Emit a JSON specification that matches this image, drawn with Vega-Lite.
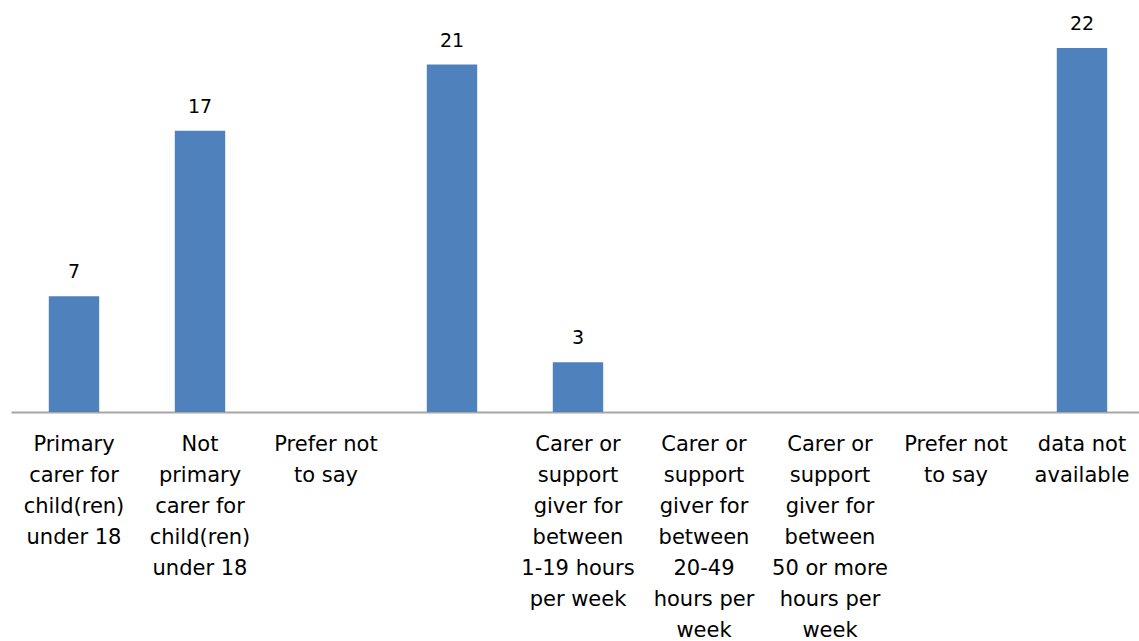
{
  "$schema": "https://vega.github.io/schema/vega-lite/v6.json",
  "width": 1134,
  "height": 364,
  "padding": {"left": 11, "top": 48, "right": 0, "bottom": 229},
  "autosize": "none",
  "background": "white",
  "config": {"view": {"stroke": null}},
  "data": {
    "values": [
      {"cat": "Primary|carer for|child(ren)|under 18", "value": 7},
      {"cat": "Not|primary|carer for|child(ren)|under 18", "value": 17},
      {"cat": "Prefer not|to say", "value": null},
      {"cat": " ", "value": 21},
      {"cat": "Carer or|support|giver for|between|1-19 hours|per week", "value": 3},
      {"cat": "Carer or|support|giver for|between|20-49|hours per|week", "value": null},
      {"cat": "Carer or|support|giver for|between|50 or more|hours per|week", "value": null},
      {"cat": "Prefer not|to say ", "value": null},
      {"cat": "data not|available", "value": 22}
    ]
  },
  "encoding": {
    "x": {
      "field": "cat",
      "type": "nominal",
      "sort": null,
      "scale": {
        "domain": [
          "Primary|carer for|child(ren)|under 18",
          "Not|primary|carer for|child(ren)|under 18",
          "Prefer not|to say",
          " ",
          "Carer or|support|giver for|between|1-19 hours|per week",
          "Carer or|support|giver for|between|20-49|hours per|week",
          "Carer or|support|giver for|between|50 or more|hours per|week",
          "Prefer not|to say ",
          "data not|available"
        ],
        "paddingInner": 0.6,
        "paddingOuter": 0.3
      },
      "axis": {
        "title": null,
        "ticks": false,
        "domainColor": "#A6A6A6",
        "domainWidth": 2,
        "labelAngle": 0,
        "labelExpr": "split(datum.value, '|')",
        "labelFont": "DejaVu Sans",
        "labelFontSize": 21,
        "labelColor": "#000000",
        "labelLineHeight": 31,
        "labelPadding": 21,
        "labelLimit": 300,
        "labelOverlap": false,
        "labelBaseline": "top"
      }
    },
    "y": {
      "field": "value",
      "type": "quantitative",
      "scale": {"domain": [0, 22], "nice": false},
      "axis": null
    }
  },
  "layer": [
    {"mark": {"type": "bar", "color": "#4F81BD"}},
    {
      "mark": {
        "type": "text",
        "baseline": "alphabetic",
        "dy": -18,
        "font": "DejaVu Sans",
        "fontSize": 19,
        "color": "#000000"
      },
      "encoding": {"text": {"field": "value", "type": "quantitative"}}
    }
  ]
}
